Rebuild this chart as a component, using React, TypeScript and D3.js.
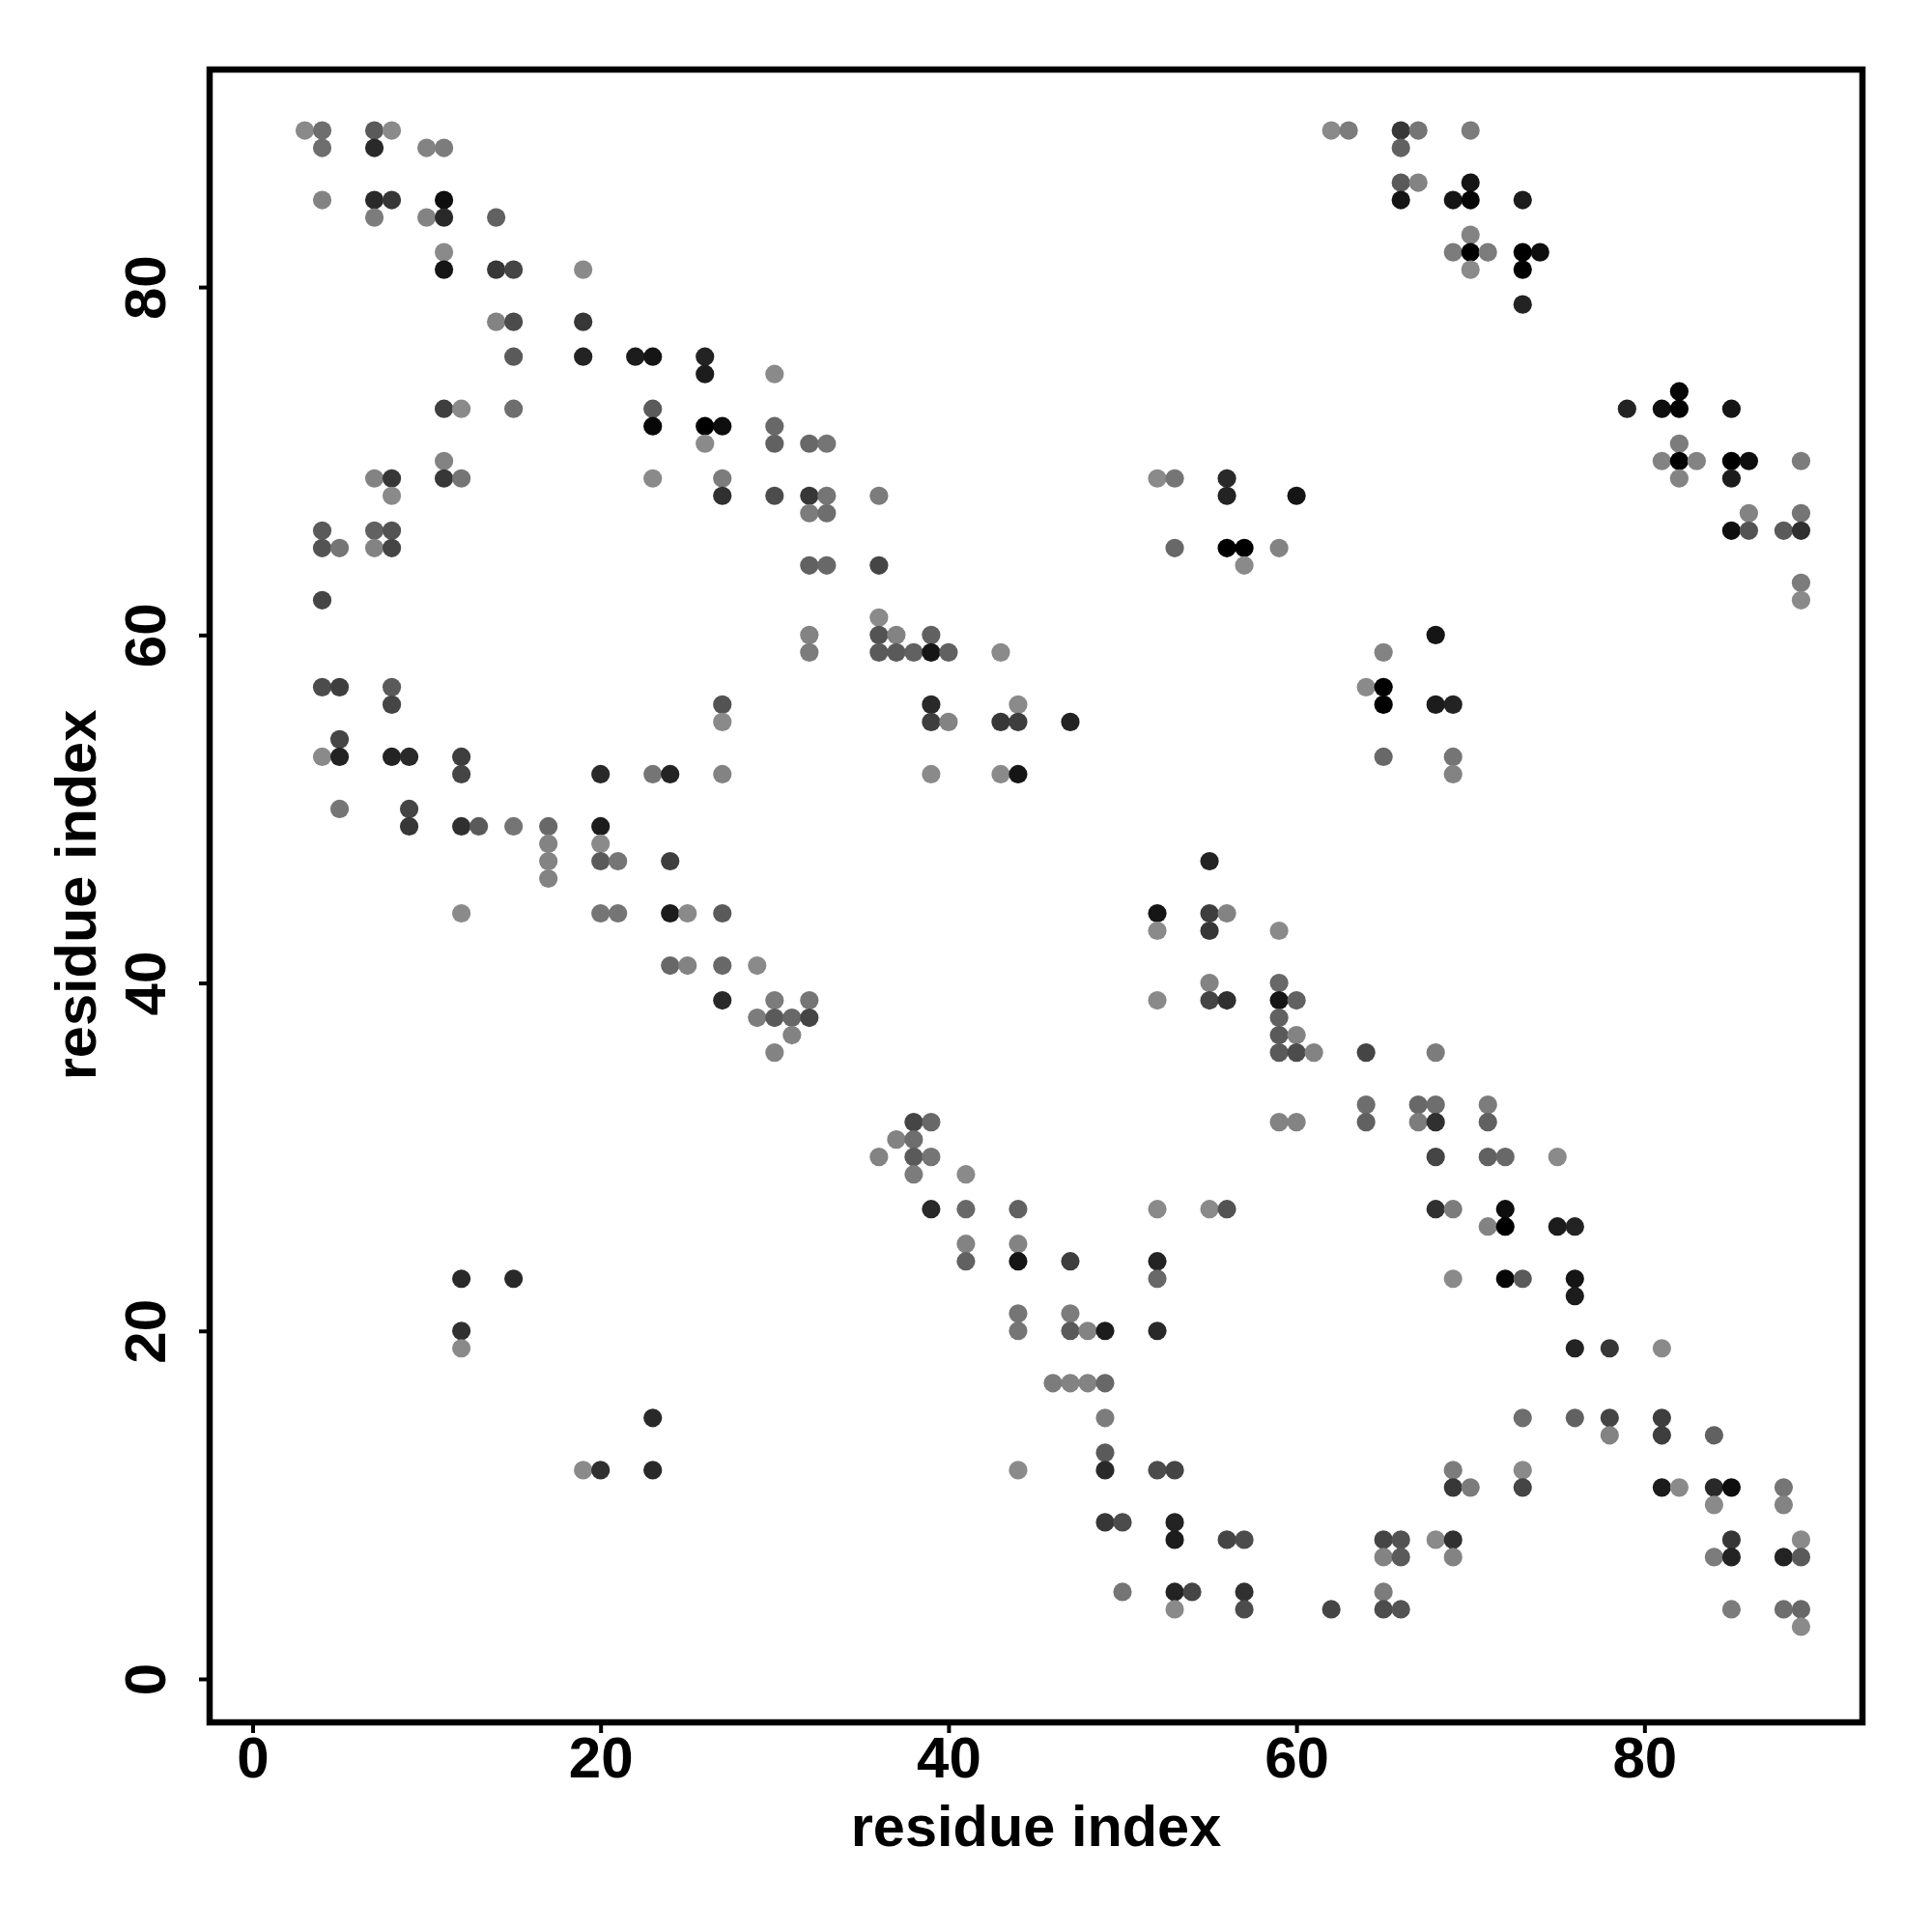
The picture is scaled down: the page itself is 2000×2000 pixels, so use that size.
import { useEffect, useRef } from 'react';
import * as d3 from 'd3';

// each row: residue on the y axis, residues on the x axis, contact strength (0 weak .. 10 strong)
const contactRows: [number, number[], number[]][] = [
  [89, [3, 4, 7, 8, 62, 63, 66, 67, 70], [0, 2, 3.5, 0, 0, 1, 6, 1.5, 1]],
  [88, [4, 7, 10, 11, 66], [2, 7, 0.5, 1, 3]],
  [86, [66, 67, 70], [3.5, 0.5, 8.5]],
  [85, [4, 7, 8, 11, 66, 69, 70, 73], [0.5, 7, 6, 9, 8.5, 8.5, 9.5, 8]],
  [84, [7, 10, 11, 14], [1, 0.5, 7, 3]],
  [83, [70], [0.5]],
  [82, [11, 69, 70, 71, 73, 74], [0, 1, 10, 1, 10, 9]],
  [81, [11, 14, 15, 19, 70, 73], [8.5, 6, 5, 0, 0, 10]],
  [79, [73], [7.5]],
  [78, [14, 15, 19], [0.5, 4.5, 6]],
  [76, [15, 19, 22, 23, 26], [3.5, 7.5, 8, 8.5, 7.5]],
  [75, [26, 30], [8, 0]],
  [74, [82], [9.5]],
  [73, [11, 12, 15, 23, 79, 81, 82, 85], [5.5, 0, 2, 3.5, 7.5, 9, 10, 8.5]],
  [72, [23, 26, 27, 30], [9.5, 10, 9, 2.5]],
  [71, [26, 30, 32, 33, 82], [0, 3, 2.5, 1.5, 1]],
  [70, [11, 81, 82, 83, 85, 86, 89], [0.5, 0.5, 10, 0.5, 10, 9, 1]],
  [69, [7, 8, 11, 12, 23, 27, 52, 53, 56, 82, 85], [0.5, 6, 6, 1.5, 0, 1, 0, 1.5, 7, 0.5, 8]],
  [68, [8, 27, 30, 32, 33, 36, 56, 60], [0, 6.5, 4.5, 6, 1.5, 1, 7.5, 8.5]],
  [67, [32, 33, 86, 89], [1, 2, 0.5, 1.5]],
  [66, [4, 7, 8, 85, 86, 88, 89], [3.5, 3, 4, 9, 4, 3.5, 6.5]],
  [65, [4, 5, 7, 8, 53, 56, 57, 59], [4, 1.5, 0.5, 5, 2.5, 10, 10, 0.5]],
  [64, [32, 33, 36, 57], [3, 2.5, 5, 0]],
  [63, [89], [1]],
  [62, [4, 89], [5, 0]],
  [61, [36], [0]],
  [60, [32, 36, 37, 39, 68], [0.5, 4, 0.5, 3, 8.5]],
  [59, [32, 36, 37, 38, 39, 40, 43, 65], [1, 3.5, 3.5, 3, 8.5, 3, 0, 0.5]],
  [57, [4, 5, 8, 64, 65], [4.5, 5.5, 3.5, 0, 10]],
  [56, [8, 27, 39, 44, 65, 68, 69], [5, 4, 7, 0, 10, 8, 7.5]],
  [55, [27, 39, 40, 43, 44, 47], [0, 5.5, 0.5, 6, 5.5, 7.5]],
  [54, [5], [5]],
  [53, [4, 5, 8, 9, 12, 65, 69], [0, 7.5, 7.5, 7, 5.5, 2.5, 1.5]],
  [52, [12, 20, 23, 24, 27, 39, 43, 44, 69], [5, 7, 1.5, 7.5, 0.5, 0, 0, 8.5, 0.5]],
  [50, [5, 9], [1.5, 5]],
  [49, [9, 12, 13, 15, 17, 20], [6, 6.5, 3.5, 1.5, 2.5, 8]],
  [48, [17, 20], [0.5, 0]],
  [47, [17, 20, 21, 24, 55], [0.5, 3.5, 1.5, 5.5, 7.5]],
  [46, [17], [0.5]],
  [44, [12, 20, 21, 24, 25, 27, 52, 55, 56], [0, 1.5, 1.5, 8, 0, 3.5, 8.5, 5.5, 0.5]],
  [43, [52, 55, 59], [0, 6, 0]],
  [41, [24, 25, 27, 29], [2.5, 0.5, 2.5, 0]],
  [40, [55, 59], [0.5, 2.5]],
  [39, [27, 30, 32, 52, 55, 56, 59, 60], [7, 1, 1.5, 0, 5, 6.5, 8.5, 3]],
  [38, [29, 30, 31, 32, 59], [1, 3.5, 2.5, 5, 3]],
  [37, [31, 59, 60], [0.5, 3.5, 0.5]],
  [36, [30, 59, 60, 61, 64, 68], [0.5, 3.5, 4.5, 0.5, 5, 1]],
  [33, [64, 67, 68, 71], [2, 2.5, 2, 1]],
  [32, [38, 39, 59, 60, 64, 67, 68, 71], [5, 2.5, 0.5, 0.5, 3, 1, 6.5, 3]],
  [31, [37, 38], [0.5, 2]],
  [30, [36, 38, 39, 68, 71, 72, 75], [0.5, 3.5, 1.5, 5, 3, 2.5, 0]],
  [29, [38, 41], [1, 0]],
  [27, [39, 41, 44, 52, 55, 56, 68, 69, 72], [7, 2.5, 3, 0, 0, 4, 6.5, 1, 9]],
  [26, [71, 72, 75, 76], [0.5, 10, 8, 7.5]],
  [25, [41, 44], [0.5, 0.5]],
  [24, [41, 44, 47, 52], [3, 8.5, 5.5, 7.5]],
  [23, [12, 15, 52, 69, 72, 73, 76], [7, 7, 2.5, 0, 9.5, 3.5, 8.5]],
  [22, [76], [8]],
  [21, [44, 47], [1.5, 1]],
  [20, [12, 44, 47, 48, 49, 52], [6.5, 1.5, 3.5, 0.5, 8, 7]],
  [19, [12, 76, 78, 81], [0, 7.5, 6, 0]],
  [17, [46, 47, 48, 49], [1, 0.5, 0.5, 2.5]],
  [15, [23, 49, 73, 76, 78, 81], [7, 1, 2, 3, 5, 5.5]],
  [14, [78, 81, 84], [0.5, 5.5, 3]],
  [13, [49], [3.5]],
  [12, [19, 20, 23, 44, 49, 52, 53, 69, 73], [0, 6.5, 7, 0, 7, 4.5, 5, 1, 0]],
  [11, [69, 70, 73, 81, 82, 84, 85, 88], [6, 1, 5, 8, 0, 7, 9, 1.5]],
  [10, [84, 88], [0, 0.5]],
  [9, [49, 50, 53], [6, 4.5, 7.5]],
  [8, [53, 56, 57, 65, 66, 68, 69, 85, 89], [8, 5, 4.5, 5, 4, 0, 6.5, 6, 0]],
  [7, [65, 66, 69, 84, 85, 88, 89], [0.5, 3.5, 0.5, 1, 7.5, 7.5, 3.5]],
  [5, [50, 53, 54, 57, 65], [1.5, 7.5, 5, 6.5, 1]],
  [4, [53, 57, 62, 65, 66, 85, 88, 89], [0, 4.5, 5, 4.5, 4, 1, 2, 2.5]],
  [3, [89], [0]],
];

const xTicks = [0, 20, 40, 60, 80];
const yTicks = [0, 20, 40, 60, 80];
const xTitle = 'residue index';
const yTitle = 'residue index';

const FONT = '"Liberation Sans", Arial, sans-serif';

export default function App() {
  const ref = useRef<SVGSVGElement>(null);

  useEffect(() => {
    const svg = d3.select(ref.current);
    svg.selectAll('*').remove();

    const left = 217, right = 1928, top = 72, bottom = 1783;

    const x = d3.scaleLinear().domain([-2.47, 92.53]).range([left, right]);
    const y = d3.scaleLinear().domain([-2.5, 92.5]).range([bottom, top]);
    const gray = d3.scaleLinear().domain([0, 10]).range([138, 0]);

    const points = contactRows.flatMap(([row, cols, scores]) =>
      cols.map((col, i) => ({ col, row, score: scores[i] }))
    );

    svg.selectAll('circle')
      .data(points)
      .enter()
      .append('circle')
      .attr('cx', d => x(d.col))
      .attr('cy', d => y(d.row))
      .attr('r', 9.6)
      .attr('fill', d => {
        const g = Math.round(gray(d.score));
        return `rgb(${g},${g},${g})`;
      });

    // axes
    const xAxis = svg.append('g')
      .attr('transform', `translate(0,${bottom})`)
      .call(d3.axisBottom(x).tickValues(xTicks).tickSize(11).tickPadding(12));

    const yAxis = svg.append('g')
      .attr('transform', `translate(${left},0)`)
      .call(d3.axisLeft(y).tickValues(yTicks).tickSize(11).tickPadding(0));

    xAxis.select('.domain').remove();
    yAxis.select('.domain').remove();
    xAxis.selectAll('line').attr('stroke', '#000').attr('stroke-width', 4);
    yAxis.selectAll('line').attr('stroke', '#000').attr('stroke-width', 4);

    xAxis.selectAll('text')
      .attr('y', null)
      .attr('dy', null)
      .attr('transform', 'translate(0,57)')
      .attr('font-family', FONT)
      .attr('font-weight', 'bold')
      .attr('font-size', 60)
      .attr('fill', '#000');

    yAxis.selectAll('text')
      .attr('x', null)
      .attr('dy', null)
      .attr('transform', 'translate(-46,0) rotate(-90)')
      .attr('text-anchor', 'middle')
      .attr('font-family', FONT)
      .attr('font-weight', 'bold')
      .attr('font-size', 60)
      .attr('fill', '#000');

    svg.append('rect')
      .attr('x', left)
      .attr('y', top)
      .attr('width', right - left)
      .attr('height', bottom - top)
      .attr('fill', 'none')
      .attr('stroke', '#000')
      .attr('stroke-width', 6.5);

    svg.append('text')
      .attr('x', (left + right) / 2)
      .attr('y', 1911)
      .attr('text-anchor', 'middle')
      .attr('font-family', FONT)
      .attr('font-weight', 'bold')
      .attr('font-size', 59.5)
      .text(xTitle);

    svg.append('text')
      .attr('transform', `translate(99,${(top + bottom) / 2 - 1}) rotate(-90)`)
      .attr('text-anchor', 'middle')
      .attr('font-family', FONT)
      .attr('font-weight', 'bold')
      .attr('font-size', 59.5)
      .text(yTitle);
  }, []);

  return (
    <svg
      ref={ref}
      width={2000}
      height={2000}
      style={{ position: 'absolute', left: 0, top: 0, background: '#fff' }}
    />
  );
}
